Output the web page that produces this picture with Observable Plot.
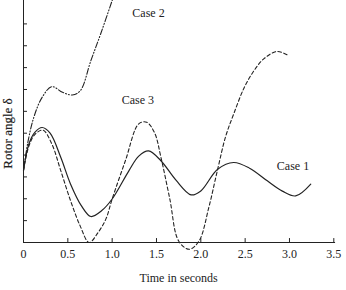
<!DOCTYPE html>
<html>
<head>
<meta charset="utf-8">
<script src="https://cdn.jsdelivr.net/npm/d3@7"></script>
<script src="https://cdn.jsdelivr.net/npm/@observablehq/plot@0.6"></script>
<style>
  html, body { margin: 0; padding: 0; background: #fff; }
</style>
</head>
<body>
<div id="chart"></div>
<script>
// Case 1 (solid)
const time1  = [0, 0.06, 0.13, 0.21, 0.30, 0.42, 0.53, 0.65, 0.76, 0.88, 1.00, 1.19, 1.30, 1.41, 1.55, 1.72, 1.89, 2.00, 2.19, 2.37, 2.55, 2.75, 2.92, 3.07, 3.24];
const angle1 = [3.3, 4.5, 5.05, 5.26, 5.0, 3.9, 2.68, 1.7, 1.19, 1.45, 1.99, 3.29, 3.95, 4.19, 3.74, 2.85, 2.18, 2.36, 3.35, 3.66, 3.4, 2.82, 2.35, 2.13, 2.67];
// Case 2 (dash-dot)
const time2  = [0, 0.05, 0.116, 0.21, 0.32, 0.44, 0.55, 0.64, 0.76, 0.87, 1.00, 1.06];
const angle2 = [3.3, 4.6, 5.72, 6.64, 7.13, 6.87, 6.75, 6.94, 8.32, 9.54, 11.07, 11.8];
// Case 3 (dashed)
const time3  = [0, 0.06, 0.13, 0.22, 0.32, 0.42, 0.53, 0.64, 0.74, 0.84, 0.93, 1.00, 1.15, 1.30, 1.39, 1.48, 1.55, 1.65, 1.75, 1.87, 1.98, 2.09, 2.19, 2.28, 2.37, 2.49, 2.60, 2.71, 2.86, 2.99];
const angle3 = [3.3, 4.4, 4.95, 5.14, 4.5, 3.29, 1.92, 0.75, 0.0, 0.45, 1.08, 1.99, 3.75, 5.43, 5.5, 5.0, 3.9, 2.0, 0.07, -0.31, 0.07, 1.6, 3.35, 4.85, 5.87, 7.09, 7.86, 8.4, 8.74, 8.55];

const caseLabels = ["Case 1", "Case 2", "Case 3"];
const labelT = [3.04, 1.41, 1.29];
const labelV = [3.47, 10.47, 6.49];

const xTicks = [0, 0.5, 1.0, 1.5, 2.0, 2.5, 3.0, 3.5];
const yTicks = [1, 2, 3, 4, 5, 6, 7, 8, 9, 10];
const xTitle = "Time in seconds";
const yTitle = "Rotor angle δ";

const s1 = time1.map((t, i) => ({t, v: angle1[i]}));
const s2 = time2.map((t, i) => ({t, v: angle2[i]}));
const s3 = time3.map((t, i) => ({t, v: angle3[i]}));
const labels = caseLabels.map((l, i) => ({l, t: labelT[i], v: labelV[i]}));

const ink = "#222";

const chart = Plot.plot({
  width: 346,
  height: 290,
  marginLeft: 23,
  marginRight: 12.7,
  marginTop: 0,
  marginBottom: 48,
  style: {fontFamily: "'Liberation Serif', 'Times New Roman', serif", fontSize: "12px", color: ink, background: "#fff"},
  x: {domain: [0, 3.5]},
  y: {domain: [0, 11.07], axis: null},
  marks: [
    Plot.ruleX([0], {stroke: ink, strokeWidth: 1}),
    Plot.ruleY([0], {x1: 0, x2: 3.52, stroke: ink, strokeWidth: 1}),
    Plot.ruleY(yTicks, {x1: 0, x2: 0.045, stroke: ink, strokeWidth: 1}),
    Plot.ruleX(xTicks, {y1: 0, y2: 0.18, stroke: ink, strokeWidth: 1}),
    Plot.axisX({ticks: xTicks, tickSize: 0, tickPadding: 7, label: null,
      tickFormat: d => d === 0 ? "0" : d.toFixed(1), fill: ink}),
    Plot.line(s1, {x: "t", y: "v", curve: "catmull-rom", stroke: ink, strokeWidth: 1.2}),
    Plot.line(s3, {x: "t", y: "v", curve: "catmull-rom", stroke: ink, strokeWidth: 1.1, strokeDasharray: "3.5,2.5"}),
    Plot.line(s2, {x: "t", y: "v", curve: "catmull-rom", stroke: ink, strokeWidth: 1.1, strokeDasharray: "6,2,1,2,1,2", clip: true}),
    Plot.text(labels, {x: "t", y: "v", text: "l", fill: ink, fontSize: 12}),
    Plot.text([xTitle], {frameAnchor: "bottom", dy: 36, textAnchor: "middle", lineAnchor: "middle", fill: ink, fontSize: 12}),
    Plot.text([yTitle], {frameAnchor: "left", dx: -16, dy: 12, rotate: -90, textAnchor: "middle", lineAnchor: "middle", fill: ink, fontSize: 13, stroke: ink, strokeWidth: 0.2})
  ]
});
document.getElementById("chart").appendChild(chart);
</script>
</body>
</html>
